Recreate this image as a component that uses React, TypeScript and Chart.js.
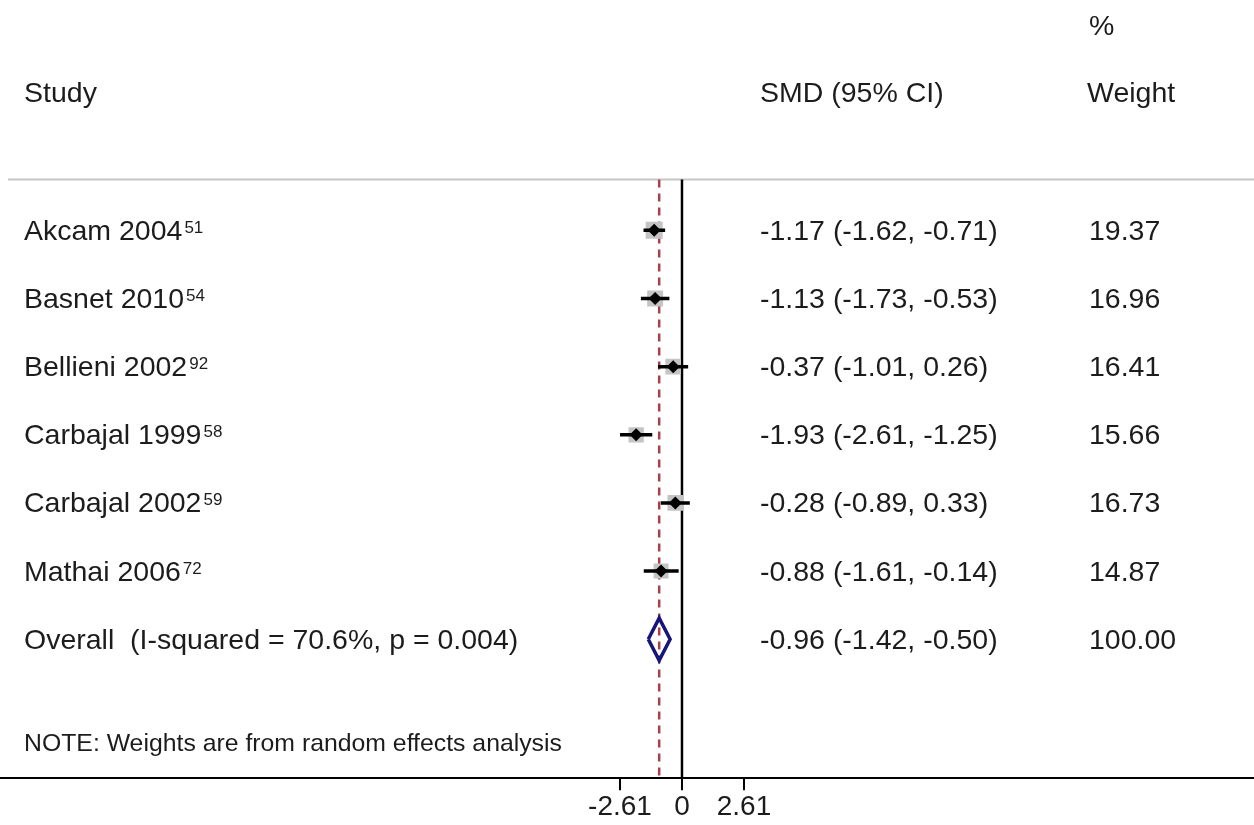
import React, { useEffect, useRef } from "react";
import { Chart, registerables } from "chart.js";

Chart.register(...registerables);

// ---- data ----
const STUDIES = ["Akcam 2004", "Basnet 2010", "Bellieni 2002", "Carbajal 1999", "Carbajal 2002", "Mathai 2006"];
const REFS = ["51", "54", "92", "58", "59", "72"];
const EST = [-1.17, -1.13, -0.37, -1.93, -0.28, -0.88];
const LO = [-1.62, -1.73, -1.01, -2.61, -0.89, -1.61];
const HI = [-0.71, -0.53, 0.26, -1.25, 0.33, -0.14];
const WEIGHTS = [19.37, 16.96, 16.41, 15.66, 16.73, 14.87];
const OVERALL_LABEL = "Overall  (I-squared = 70.6%, p = 0.004)";
const OVERALL_EST = -0.96;
const OVERALL_LO = -1.42;
const OVERALL_HI = -0.5;
const OVERALL_WEIGHT = 100.0;
const X_TICKS = [-2.61, 0, 2.61];
const NOTE = "NOTE: Weights are from random effects analysis";

// ---- scale ranges ----
const XMIN = -28.71;
const XMAX = 24.08;
const YMIN = -3.381;
const YMAX = 8.04;
const HEADER_LINE_Y = -0.747;
const DIAMOND_HALF = 0.31;

const FONT = "'Liberation Sans', Arial, Helvetica, sans-serif";
const TEXT_COLOR = "#1c1c1c";

const fmt = (v: number) => v.toFixed(2);

const textPlugin = {
  id: "forestText",
  beforeDatasetsDraw(chart: any) {
    const ctx = chart.ctx;
    const ys = chart.scales.y;
    const area = chart.chartArea;
    ctx.save();
    ctx.strokeStyle = "#c6c6c6";
    ctx.lineWidth = 2;
    const sepY = ys.getPixelForValue(HEADER_LINE_Y);
    ctx.beginPath();
    ctx.moveTo(8, sepY);
    ctx.lineTo(area.right, sepY);
    ctx.stroke();
    ctx.restore();
  },
  afterDraw(chart: any) {
    const ctx = chart.ctx;
    const ys = chart.scales.y;
    ctx.save();
    ctx.fillStyle = TEXT_COLOR;
    ctx.textBaseline = "alphabetic";
    ctx.textAlign = "left";
    ctx.font = `28.5px ${FONT}`;
    // headers
    ctx.fillText("%", 1089, 35);
    ctx.fillText("Study", 24, 102);
    ctx.fillText("SMD (95% CI)", 760, 102);
    ctx.fillText("Weight", 1087, 102);

    const rows = STUDIES.length;
    for (let i = 0; i < rows; i++) {
      const y = ys.getPixelForValue(i) + 9.5;
      ctx.font = `28.5px ${FONT}`;
      ctx.fillText(STUDIES[i], 24, y);
      const w = ctx.measureText(STUDIES[i]).width;
      ctx.fillText(`${fmt(EST[i])} (${fmt(LO[i])}, ${fmt(HI[i])})`, 760, y);
      ctx.fillText(fmt(WEIGHTS[i]), 1089, y);
      ctx.font = `17px ${FONT}`;
      ctx.fillText(REFS[i], 24 + w + 2, y - 7);
    }
    const oy = ys.getPixelForValue(rows) + 9.5;
    ctx.font = `28.5px ${FONT}`;
    ctx.fillText(OVERALL_LABEL, 24, oy);
    ctx.fillText(`${fmt(OVERALL_EST)} (${fmt(OVERALL_LO)}, ${fmt(OVERALL_HI)})`, 760, oy);
    ctx.fillText(fmt(OVERALL_WEIGHT), 1089, oy);

    ctx.font = `24.8px ${FONT}`;
    ctx.fillText(NOTE, 24, 751);
    ctx.restore();
  },
};

export default function App() {
  const ref = useRef<HTMLCanvasElement | null>(null);

  useEffect(() => {
    if (!ref.current) return;
    const ciData: any[] = [];
    EST.forEach((_, i) => {
      ciData.push({ x: LO[i], y: i });
      ciData.push({ x: HI[i], y: i });
      ciData.push({ x: HI[i], y: null });
    });
    const maxW = Math.max(...WEIGHTS);
    const boxRadii = WEIGHTS.map((w) => (17 * Math.sqrt(w / maxW)) / Math.SQRT2);
    const ov = STUDIES.length;

    const chart = new Chart(ref.current, {
      type: "scatter",
      data: {
        datasets: [
          {
            type: "scatter",
            label: "Point estimate",
            data: EST.map((x, i) => ({ x, y: i })),
            pointStyle: "rectRot",
            pointRadius: 6.5,
            pointBackgroundColor: "#000",
            pointBorderWidth: 0,
            order: 0,
          } as any,
          {
            type: "line",
            label: "95% CI",
            data: ciData,
            borderColor: "#000",
            borderWidth: 3.5,
            pointRadius: 0,
            spanGaps: false,
            order: 1,
          },
          {
            type: "scatter",
            label: "Weight box",
            data: EST.map((x, i) => ({ x, y: i })),
            pointStyle: "rect",
            pointRadius: boxRadii,
            pointBackgroundColor: "#c4c4c4",
            pointBorderWidth: 0,
            order: 2,
          } as any,
          {
            type: "line",
            label: "Overall",
            data: [
              { x: OVERALL_LO, y: ov },
              { x: OVERALL_EST, y: ov - DIAMOND_HALF },
              { x: OVERALL_HI, y: ov },
              { x: OVERALL_EST, y: ov + DIAMOND_HALF },
              { x: OVERALL_LO, y: ov },
            ],
            borderColor: "#15157a",
            borderWidth: 3.5,
            pointRadius: 0,
            tension: 0,
            borderJoinStyle: "miter",
            order: 1,
          },
          {
            type: "line",
            label: "Overall effect",
            data: [
              { x: OVERALL_EST, y: HEADER_LINE_Y },
              { x: OVERALL_EST, y: YMAX },
            ],
            borderColor: "#a8404c",
            borderWidth: 2.5,
            borderDash: [8, 6],
            pointRadius: 0,
            order: 4,
          },
          {
            type: "line",
            label: "Null",
            data: [
              { x: 0, y: HEADER_LINE_Y },
              { x: 0, y: YMAX },
            ],
            borderColor: "#000",
            borderWidth: 2.5,
            pointRadius: 0,
            order: 3,
          },
        ],
      },
      options: {
        animation: false,
        responsive: true,
        maintainAspectRatio: false,
        layout: { padding: 0, autoPadding: false },
        plugins: { legend: { display: false }, tooltip: { enabled: false } },
        scales: {
          x: {
            type: "linear",
            position: "bottom",
            min: XMIN,
            max: XMAX,
            afterBuildTicks: (scale: any) => {
              scale.ticks = X_TICKS.map((v) => ({ value: v }));
            },
            ticks: {
              autoSkip: false,
              maxRotation: 0,
              padding: 2,
              color: TEXT_COLOR,
              font: { size: 28, family: FONT, lineHeight: 1.1 },
              callback: (v: any) => String(v),
            },
            grid: {
              display: true,
              drawOnChartArea: false,
              drawTicks: true,
              tickLength: 12,
              color: "#000",
              lineWidth: 2,
            },
            border: { display: true, color: "#000", width: 2 },
          },
          y: {
            type: "linear",
            display: false,
            reverse: true,
            min: YMIN,
            max: YMAX,
          },
        },
      },
      plugins: [textPlugin],
    });
    return () => chart.destroy();
  }, []);

  return (
    <div style={{ position: "fixed", left: 0, top: 0, width: 1254, height: 825, background: "#fff" }}>
      <canvas ref={ref} />
    </div>
  );
}
